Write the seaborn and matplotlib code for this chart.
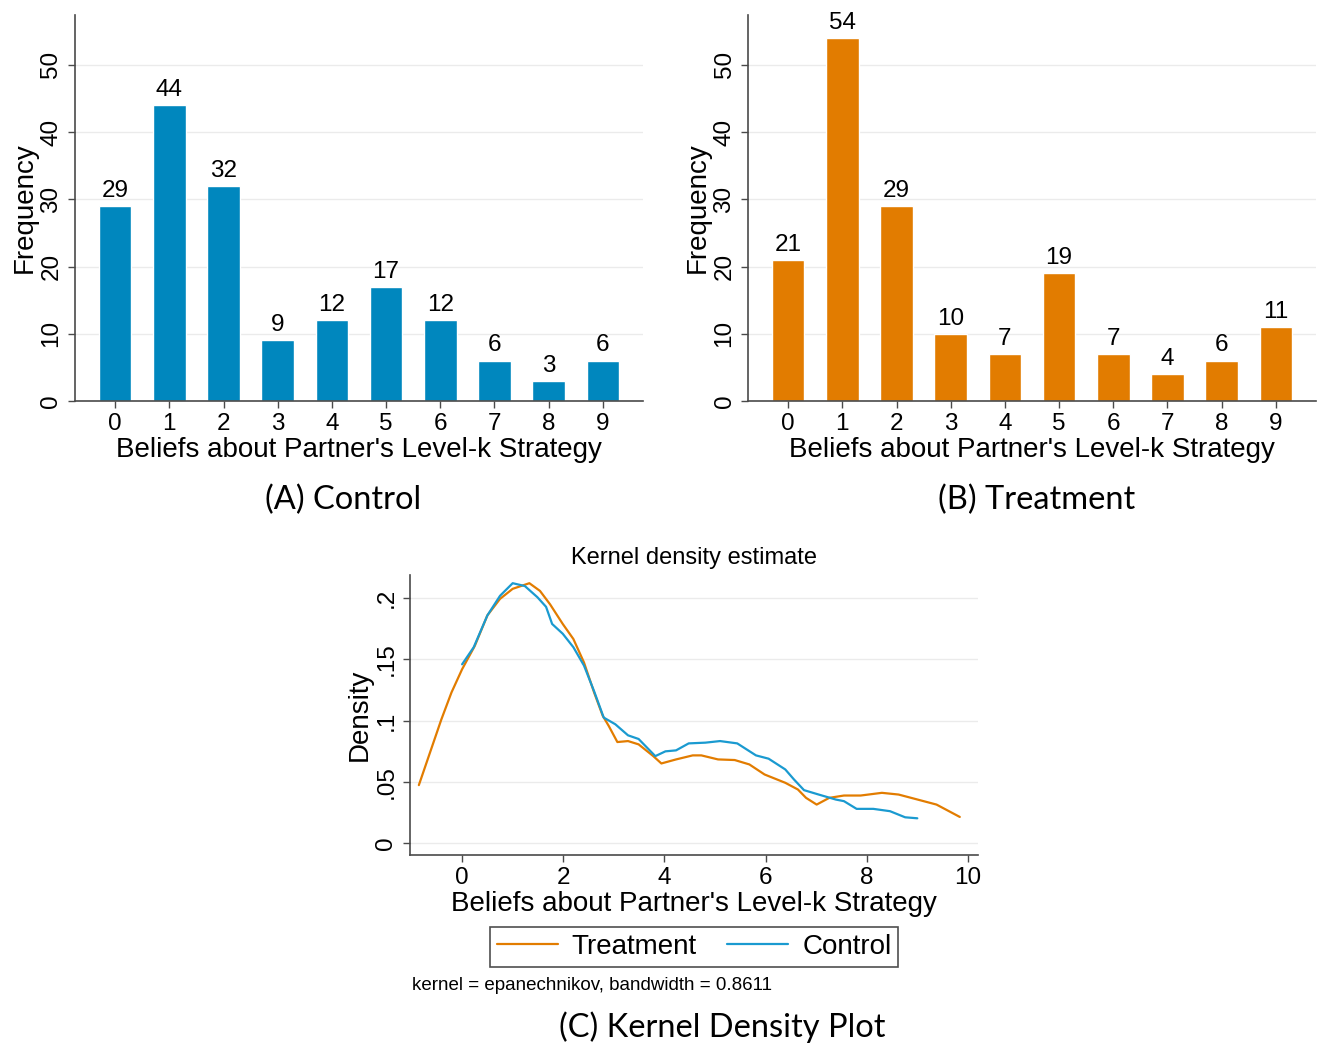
import pandas as pd
import matplotlib
matplotlib.use('Agg')
import matplotlib.pyplot as plt
import seaborn as sns

# bar data
levels = [0, 1, 2, 3, 4, 5, 6, 7, 8, 9]
control_freq = [29, 44, 32, 9, 12, 17, 12, 6, 3, 6]
treatment_freq = [21, 54, 29, 10, 7, 19, 7, 4, 6, 11]

# kde curves
treat_x = [-0.855, -0.41, -0.21, 0.0, 0.25, 0.5, 0.75, 1.0, 1.33, 1.54, 1.74, 1.99, 2.2, 2.41,
           2.61, 2.78, 2.9, 3.07, 3.28, 3.49, 3.78, 3.94, 4.23, 4.56, 4.73, 5.06, 5.39, 5.68,
           5.98, 6.39, 6.64, 6.8, 7.01, 7.26, 7.55, 7.88, 8.3, 8.63, 8.96, 9.38, 9.84]
treat_y = [0.0473, 0.101, 0.123, 0.142, 0.161, 0.186, 0.1995, 0.2077, 0.2123, 0.206, 0.195,
           0.179, 0.1667, 0.1475, 0.123, 0.104, 0.0956, 0.0825, 0.0833, 0.0806, 0.071, 0.065,
           0.0683, 0.0716, 0.0716, 0.0683, 0.0678, 0.0642, 0.056, 0.0492, 0.0437, 0.0369,
           0.0314, 0.0369, 0.0388, 0.0388, 0.041, 0.0396, 0.036, 0.0314, 0.0213]
ctrl_x = [0.0, 0.23, 0.5, 0.75, 1.0, 1.24, 1.49, 1.66, 1.78, 1.99, 2.2, 2.41, 2.61, 2.8, 3.03,
          3.28, 3.49, 3.82, 4.02, 4.23, 4.48, 4.81, 5.1, 5.44, 5.81, 6.06, 6.39, 6.56, 6.76,
          7.05, 7.39, 7.55, 7.8, 8.13, 8.46, 8.76, 9.0]
ctrl_y = [0.146, 0.160, 0.186, 0.202, 0.2123, 0.210, 0.2008, 0.193, 0.179, 0.171, 0.160, 0.145,
          0.124, 0.1025, 0.097, 0.088, 0.085, 0.071, 0.0749, 0.0757, 0.0814, 0.082, 0.0833,
          0.0814, 0.0716, 0.0689, 0.0601, 0.052, 0.0432, 0.0396, 0.0355, 0.0342, 0.0279,
          0.0279, 0.026, 0.021, 0.0202]

blue = '#0087BE'
orange = '#E27C00'
line_blue = '#1a9ad0'

sns.set_theme(style='white')
plt.rcParams['font.family'] = ['Liberation Sans', 'DejaVu Sans']
plt.rcParams['text.color'] = 'black'
plt.rcParams['axes.labelcolor'] = 'black'
plt.rcParams['xtick.color'] = 'black'
plt.rcParams['ytick.color'] = 'black'

W, H = 1322, 1044
fig = plt.figure(figsize=(W / 100, H / 100), dpi=100)


def px_axes(left, top, right, bottom):
    return fig.add_axes([left / W, 1 - bottom / H, (right - left) / W, (bottom - top) / H])


def stata_style(ax):
    sns.despine(ax=ax)
    for s in ['left', 'bottom']:
        ax.spines[s].set_color('#4a4a4a')
        ax.spines[s].set_linewidth(1.2)
    ax.tick_params(axis='both', direction='out', length=5, width=1, color='#4a4a4a',
                   labelcolor='black', labelsize=17.5, pad=4, bottom=True, left=True)
    ax.yaxis.grid(True, color='#ebebeb', lw=1)
    ax.set_axisbelow(True)
    for lab in ax.get_yticklabels():
        lab.set_rotation(90)
        lab.set_va('center')


def bar_panel(ax, freq, color):
    df = pd.DataFrame({'level': levels, 'freq': freq})
    sns.barplot(data=df, x='level', y='freq', color=color, saturation=1, width=0.6, ax=ax)
    for c in ax.containers:
        ax.bar_label(c, fontsize=17.5, padding=3, color='black')
    ax.set_ylim(0, 57.4)
    ax.set_xlim(-0.74, 9.74)
    ax.set_yticks([0, 10, 20, 30, 40, 50])
    ax.set_xlabel("Beliefs about Partner's Level-k Strategy", fontsize=20, labelpad=1)
    ax.set_ylabel('Frequency', fontsize=20, labelpad=2)
    stata_style(ax)


axA = px_axes(75, 15, 643, 401)
bar_panel(axA, control_freq, blue)
axB = px_axes(748, 15, 1316, 401)
bar_panel(axB, treatment_freq, orange)

axC = px_axes(410, 575, 978, 855)
kde = pd.concat([
    pd.DataFrame({'x': treat_x, 'y': treat_y, 'group': 'Treatment'}),
    pd.DataFrame({'x': ctrl_x, 'y': ctrl_y, 'group': 'Control'}),
])
sns.lineplot(data=kde, x='x', y='y', hue='group', palette={'Treatment': orange, 'Control': line_blue},
             lw=1.6, ax=axC, legend=False)
axC.set_xlim(-1.03, 10.2)
axC.set_ylim(-0.0098, 0.219)
axC.set_xticks([0, 2, 4, 6, 8, 10])
axC.set_yticks([0, 0.05, 0.1, 0.15, 0.2])
axC.set_yticklabels(['0', '.05', '.1', '.15', '.2'])
axC.set_xlabel("Beliefs about Partner's Level-k Strategy", fontsize=20, labelpad=1)
axC.set_ylabel('Density', fontsize=20, labelpad=2)
axC.set_title('Kernel density estimate', fontsize=17, pad=8)
stata_style(axC)

handles = [plt.Line2D([], [], color=orange, lw=1.6), plt.Line2D([], [], color=line_blue, lw=1.6)]
leg = fig.legend(handles, ['Treatment', 'Control'], loc='center', bbox_to_anchor=(694 / W, 1 - 947 / H),
                 ncol=2, fontsize=20, frameon=True, fancybox=False, edgecolor='#222222',
                 handlelength=2.2, handletextpad=0.5, columnspacing=1.1, borderpad=0.25)
leg.get_frame().set_linewidth(1.2)

fig.text(412 / W, 1 - 986 / H, 'kernel = epanechnikov, bandwidth = 0.8611', fontsize=13.5,
         ha='left', va='center')

cap_font = ['Lato', 'DejaVu Sans']
fig.text(343 / W, 1 - 500 / H, '(A) Control', fontsize=23.5, ha='center', va='center', family=cap_font)
fig.text(1037 / W, 1 - 500 / H, '(B) Treatment', fontsize=23.5, ha='center', va='center', family=cap_font)
fig.text(722 / W, 1 - 1027 / H, '(C) Kernel Density Plot', fontsize=23.5, ha='center', va='center',
         family=cap_font)

fig.savefig('out.png', dpi=100)
